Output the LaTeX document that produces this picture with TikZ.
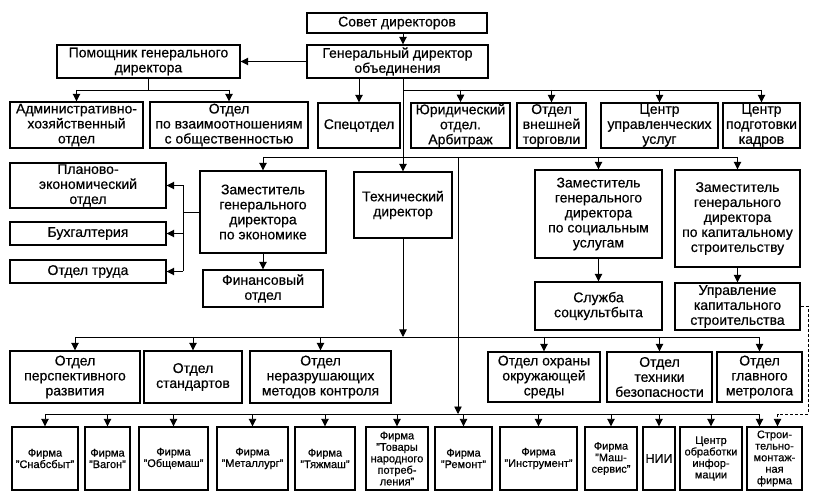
\documentclass[tikz,border=0pt]{standalone}
\usepackage{fontspec}
\setmainfont{Liberation Sans}[FakeBold=0.5]
\usetikzlibrary{arrows.meta}

\tikzset{
  box/.style={draw, line width=1.4pt, align=center, inner sep=1pt, font=\fontsize{14}{15}\selectfont},
  firm/.style={box, minimum height=63, font=\fontsize{11}{11.5}\selectfont},
  arr/.style={line width=0.9pt, -{Triangle[length=7.5pt,width=7.5pt]}},
  bus/.style={line width=0.9pt},
}

\begin{document}
\begin{tikzpicture}[x=1pt, y=-1pt]
        \useasboundingbox (0,0) rectangle (822,494);
        \coordinate (trunk) at (403,0);
        \coordinate (b0) at (148.5,90);
        \coordinate (b1) at (403,90);
        \coordinate (b2) at (0,157);
        \coordinate (b3) at (0,337);
        \coordinate (b4) at (183,0);
        \coordinate (b5) at (458,0);
        \coordinate (b6) at (0,414);
        \coordinate (d) at (808,0);

        % Top.
        \node[box, minimum width=180, minimum height=20] (sovet) at (397,23) {Совет директоров};
        \node[box, minimum width=181, minimum height=33] (gendir) at (397.5,61.5) {Генеральный директор\\объединения};
        \node[box, minimum width=183, minimum height=33] (pomosh) at (148.5,61.5) {Помощник генерального\\директора};

        % Second row.
        \node[box, minimum width=133, minimum height=46] (aho) at (76.5,125) {Административно-\\хозяйственный\\отдел};
        \node[box, minimum width=158, minimum height=46] (otnosh) at (229,125) {Отдел\\по взаимоотношениям\\с общественностью};
        \node[box, minimum width=82, minimum height=45] (spec) at (359,125.5) {Спецотдел};
        \node[box, minimum width=99, minimum height=45] (yur) at (460.5,125.5) {Юридический\\отдел.\\Арбитраж};
        \node[box, minimum width=69, minimum height=45] (vnesh) at (551.5,125.5) {Отдел\\внешней\\торговли};
        \node[box, minimum width=117, minimum height=45] (upr) at (659.5,125.5) {Центр\\управленческих\\услуг};
        \node[box, minimum width=77, minimum height=45] (podg) at (761.5,125.5) {Центр\\подготовки\\кадров};

        % Deputies.
        \node[box, minimum width=156, minimum height=45] (plan) at (88,185.5) {Планово-\\экономический\\отдел};
        \node[box, minimum width=156, minimum height=23] (buh) at (88,233.5) {Бухгалтерия};
        \node[box, minimum width=156, minimum height=23] (trud) at (88,271.5) {Отдел труда};
        \node[box, minimum width=126, minimum height=82] (zamek) at (263,212) {Заместитель\\генерального\\директора\\по экономике};
        \node[box, minimum width=120, minimum height=37] (fin) at (263,288.5) {Финансовый\\отдел};
        \node[box, minimum width=98, minimum height=66] (tech) at (403,205) {Технический\\директор};
        \node[box, minimum width=127, minimum height=88] (zamsoc) at (598.5,214) {Заместитель\\генерального\\директора\\по социальным\\услугам};
        \node[box, minimum width=125, minimum height=97] (zamkap) at (737.5,218.5) {Заместитель\\генерального\\директора\\по капитальному\\строительству};
        \node[box, minimum width=127, minimum height=48] (sluzh) at (598.5,306) {Служба\\соцкультбыта};
        \node[box, minimum width=125, minimum height=47] (uprkap) at (737.5,306.5) {Управление\\капитального\\строительства};

        % Departments.
        \node[box, minimum width=130, minimum height=52] (persp) at (75,377) {Отдел\\перспективного\\развития};
        \node[box, minimum width=98, minimum height=52] (stand) at (193,377) {Отдел\\стандартов};
        \node[box, minimum width=141, minimum height=52] (nerazr) at (320.5,377) {Отдел\\неразрушающих\\методов контроля};
        \node[box, minimum width=112, minimum height=50] (okhr) at (544,377) {Отдел охраны\\окружающей\\среды};
        \node[box, minimum width=105, minimum height=50] (tekhn) at (659.5,377) {Отдел\\техники\\безопасности};
        \node[box, minimum width=85, minimum height=50] (metr) at (759.5,377) {Отдел\\главного\\метролога};

        % Firms.
        \node[firm, minimum width=66] (f1) at (45,458.5) {Фирма\\"Снабсбыт"};
        \node[firm, minimum width=45] (f2) at (107.5,458.5) {Фирма\\"Вагон"};
        \node[firm, minimum width=69] (f3) at (173.5,458.5) {Фирма\\"Общемаш"};
        \node[firm, minimum width=71] (f4) at (252.5,458.5) {Фирма\\"Металлург"};
        \node[firm, minimum width=60] (f5) at (325,458.5) {Фирма\\"Тяжмаш"};
        \node[firm, minimum width=62] (f6) at (397,458.5) {Фирма\\"Товары\\народного\\потреб-\\ления"};
        \node[firm, minimum width=57] (f7) at (463.5,458.5) {Фирма\\"Ремонт"};
        \node[firm, minimum width=77] (f8) at (538.5,458.5) {Фирма\\"Инструмент"};
        \node[firm, minimum width=52] (f9) at (611,458.5) {Фирма\\"Маш-\\сервис"};
        \node[firm, minimum width=32, font=\fontsize{12.5}{13}\selectfont] (f10) at (659,458.5) {НИИ};
        \node[firm, minimum width=62] (f11) at (711,458.5) {Центр\\обработки\\инфор-\\мации};
        \node[firm, minimum width=55] (f12) at (774.5,458.5) {Строи-\\тельно-\\монтаж-\\ная\\фирма};

        % General director.
        \draw[arr] (sovet.south -| trunk) -- (gendir.north -| trunk);
        \draw[arr] (gendir.west) -- (pomosh.east);
        \draw[arr] (gendir.south -| spec.north) -- (spec.north);
        \draw[arr] (gendir.south -| trunk) -- (tech.north);

        % Assistant.
        \draw[bus] (pomosh.south) -- (b0);
        \draw[bus] (b0 -| aho.north) -- (b0 -| otnosh.north);
        \draw[arr] (b0 -| aho.north) -- (aho.north);
        \draw[arr] (b0 -| otnosh.north) -- (otnosh.north);

        % Services under the general director.
        \draw[bus] (b1) -- (b1 -| podg.north);
        \draw[arr] (b1 -| yur.north) -- (yur.north);
        \draw[arr] (b1 -| vnesh.north) -- (vnesh.north);
        \draw[arr] (b1 -| upr.north) -- (upr.north);
        \draw[arr] (b1 -| podg.north) -- (podg.north);

        % Deputies.
        \draw[bus] (b2 -| zamek.north) -- (b2 -| zamkap.north);
        \draw[arr] (b2 -| zamek.north) -- (zamek.north);
        \draw[arr] (b2 -| zamsoc.north) -- (zamsoc.north);
        \draw[arr] (b2 -| zamkap.north) -- (zamkap.north);
        \draw[arr] (zamek.south) -- (fin.north);
        \draw[arr] (zamsoc.south) -- (sluzh.north);
        \draw[arr] (zamkap.south) -- (uprkap.north);

        % Economy.
        \draw[bus] (zamek.west) -- (zamek.west -| b4);
        \draw[bus] (plan.east -| b4) -- (trud.east -| b4);
        \draw[arr] (plan.east -| b4) -- (plan.east);
        \draw[arr] (buh.east -| b4) -- (buh.east);
        \draw[arr] (trud.east -| b4) -- (trud.east);

        % Departments.
        \draw[arr] (tech.south) -- (tech.south |- b3);
        \draw[bus] (b3 -| persp.north) -- (b3 -| metr.north);
        \draw[arr] (b3 -| persp.north) -- (persp.north);
        \draw[arr] (b3 -| stand.north) -- (stand.north);
        \draw[arr] (b3 -| nerazr.north) -- (nerazr.north);
        \draw[arr] (b3 -| okhr.north) -- (okhr.north);
        \draw[arr] (b3 -| tekhn.north) -- (tekhn.north);
        \draw[arr] (b3 -| metr.north) -- (metr.north);

        % Firms.
        \draw[arr] (b2 -| b5) -- (b6 -| b5);
        \draw[bus] (b6 -| f1.north) -- (b6 -| metr.north);
        \draw[arr] (b6 -| f1.north) -- (f1.north);
        \draw[arr] (b6 -| f2.north) -- (f2.north);
        \draw[arr] (b6 -| f3.north) -- (f3.north);
        \draw[arr] (b6 -| f4.north) -- (f4.north);
        \draw[arr] (b6 -| f5.north) -- (f5.north);
        \draw[arr] (b6 -| f6.north) -- (f6.north);
        \draw[arr] (b6 -| f7.north) -- (f7.north);
        \draw[arr] (b6 -| f8.north) -- (f8.north);
        \draw[arr] (b6 -| f9.north) -- (f9.north);
        \draw[arr] (b6 -| f10.north) -- (f10.north);
        \draw[arr] (b6 -| f11.north) -- (f11.north);
        \draw[arr] (b6 -| metr.north) -- (f12.north -| metr.north);
        \draw[arr, dash pattern=on 3pt off 2pt] (uprkap.east) -- (uprkap.east -| d) |- ([xshift=3pt]f12.north |- b6) -- ([xshift=3pt]f12.north); % Dashed link.
\end{tikzpicture}
\end{document}
